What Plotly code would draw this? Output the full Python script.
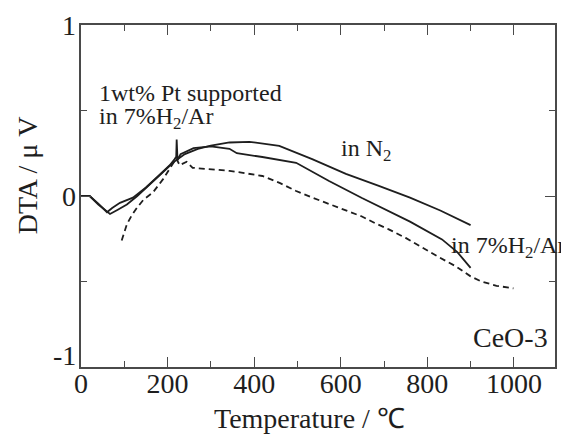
import plotly.graph_objects as go

# DTA traces of CeO-3 (1 wt% Pt supported)
t_n2 = [0, 20, 40, 67, 85, 106, 130, 160, 190, 215, 240, 270, 300, 343, 389,
        458, 534, 612, 688, 760, 830, 900]
dta_n2 = [0, 0, -0.05, -0.105, -0.08, -0.05, 0.0, 0.07, 0.14, 0.20, 0.245,
          0.275, 0.295, 0.313, 0.317, 0.293, 0.216, 0.129, 0.059, -0.01,
          -0.085, -0.17]

t_h2 = [0, 20, 40, 60, 72, 90, 120, 150, 180, 205, 216, 220, 221, 223, 230,
        260, 300, 343, 360, 419, 497, 573, 649, 711, 760, 834, 870, 900]
dta_h2 = [0, 0, -0.045, -0.095, -0.07, -0.04, -0.01, 0.05, 0.12, 0.18, 0.215,
          0.23, 0.33, 0.21, 0.245, 0.28, 0.29, 0.276, 0.25, 0.228, 0.194,
          0.088, -0.012, -0.088, -0.15, -0.254, -0.33, -0.42]

t_pt = [94, 100, 106, 118, 129, 145, 166, 190, 212, 220, 228, 244, 258, 280,
        320, 343, 380, 419, 460, 497, 535, 573, 610, 649, 680, 711, 750, 787,
        825, 865, 900, 925, 960, 999]
dta_pt = [-0.26, -0.21, -0.165, -0.11, -0.07, -0.02, 0.02, 0.1, 0.19, 0.22,
          0.18, 0.20, 0.165, 0.16, 0.155, 0.147, 0.133, 0.117, 0.075, 0.029,
          -0.01, -0.047, -0.08, -0.12, -0.16, -0.195, -0.245, -0.30, -0.355,
          -0.41, -0.47, -0.50, -0.525, -0.54]

x_ticks = [0, 200, 400, 600, 800, 1000]
y_ticks = [1, 0, -1]

INK = "#1e1e1e"
FRAME = "#4a4a4a"
SERIF = "Liberation Serif, Times New Roman, serif"

fig = go.Figure()
fig.add_trace(go.Scatter(x=t_n2, y=dta_n2, mode="lines",
                         line=dict(color=INK, width=1.8), name="in N2"))
fig.add_trace(go.Scatter(x=t_h2, y=dta_h2, mode="lines",
                         line=dict(color=INK, width=1.8), name="in 7%H2/Ar"))
fig.add_trace(go.Scatter(x=t_pt, y=dta_pt, mode="lines",
                         line=dict(color=INK, width=1.8, dash="6px,4px"),
                         name="1wt% Pt supported"))

axis_common = dict(
    showline=True, linecolor=FRAME, linewidth=1.5, mirror="ticks",
    ticks="inside", tickcolor=FRAME, tickwidth=1.3, ticklen=10,
    showgrid=False, zeroline=False,
)

fig.update_xaxes(
    range=[0, 1095], tickvals=x_ticks, ticktext=[str(v) for v in x_ticks],
    tickfont=dict(family=SERIF, size=28, color=INK), ticklabelstandoff=-9,
    minor=dict(dtick=100, ticks="inside", ticklen=6, tickcolor=FRAME,
               tickwidth=1.3),
    **axis_common,
)
fig.update_yaxes(
    range=[-1, 1], tickvals=y_ticks, showticklabels=False,
    minor=dict(dtick=0.5, ticks="inside", ticklen=6, tickcolor=FRAME,
               tickwidth=1.3),
    **axis_common,
)

ann = []
# y tick labels
for v in y_ticks:
    ann.append(dict(x=0, xref="paper", y=v, yref="y", text=str(v),
                    showarrow=False, xanchor="right", yanchor="middle",
                    xshift=-3, yshift=12 if v == -1 else 0,
                    font=dict(family=SERIF, size=28, color=INK)))

def label(text, px, py, size, anchor="center"):
    return dict(x=(px - 81) / 476, y=(367 - py) / 342, xref="paper",
                yref="paper", text=text, showarrow=False, xanchor=anchor,
                yanchor="middle", font=dict(family=SERIF, size=size, color=INK))

ann += [
    label("Temperature / ℃", 310, 419, 28),
    label("1wt% Pt supported", 97, 93, 24, "left"),
    label("in 7%H<sub>2</sub>/Ar", 97, 118, 24, "left"),
    label("in N<sub>2</sub>", 367, 150, 24),
    label("in 7%H<sub>2</sub>/Ar", 451, 247, 24, "left"),
    label("CeO-3", 512, 337, 28),
]
ann.append(dict(x=(27 - 81) / 476, y=(367 - 175) / 342, xref="paper",
                yref="paper", text="DTA / μ V", showarrow=False,
                textangle=-90, xanchor="center", yanchor="middle",
                font=dict(family=SERIF, size=28, color=INK)))

fig.update_layout(
    width=561, height=434, margin=dict(l=81, r=4, t=25, b=67),
    paper_bgcolor="white", plot_bgcolor="white", showlegend=False,
    annotations=ann,
)

fig.write_html("out.html")
